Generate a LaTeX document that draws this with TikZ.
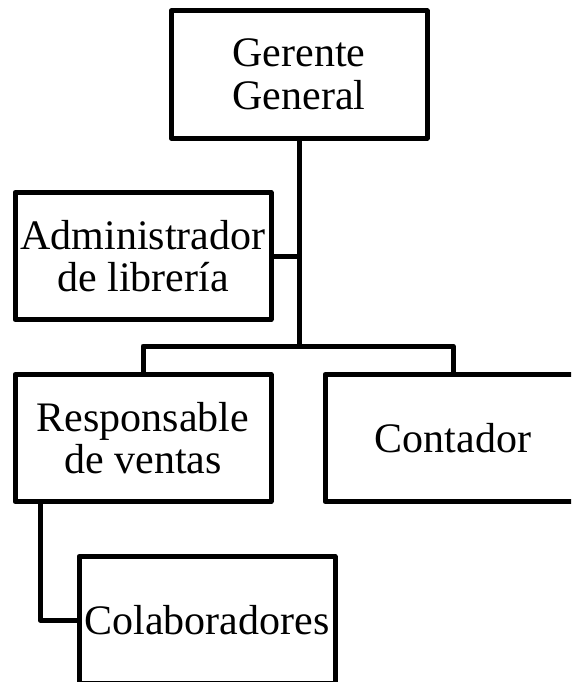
\documentclass[tikz,border=0pt]{standalone}
\usepackage{fontspec}
\setmainfont{Liberation Serif}
\begin{document}
\begin{tikzpicture}[x=1pt,y=-1pt,
  box/.style={draw=black, line width=5pt, line join=round, minimum width=256pt, minimum height=127pt,
    inner sep=2pt, align=center, font=\fontsize{42}{42.5}\selectfont},
  conn/.style={draw=black, line width=5pt, line join=round}]
\useasboundingbox (0,0) rectangle (571,682);
\clip (0,0) rectangle (571,682);
\node[box] (ger) at (299,74.5) {Gerente\\General};
\node[box] (adm) at (143,256) {Administrador\\de librería};
\node[box] (res) at (143,438) {Responsable\\de ventas};
\node[box] (con) at (453,438) {Contador};
\node[box] (col) at (207,620) {Colaboradores};
\coordinate (bus) at (299,346);
\draw[conn] (ger.south) -- (bus);
\draw[conn] (adm.east) -- (adm.east -| ger.south);
\draw[conn] (res.north) |- (bus) -| (con.north);
\draw[conn] ([xshift=-103pt]res.south) |- (col.west);
\end{tikzpicture}
\end{document}
